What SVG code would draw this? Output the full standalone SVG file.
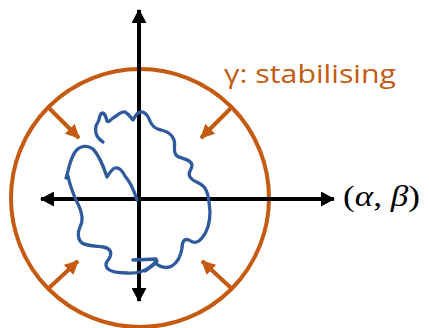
<svg xmlns="http://www.w3.org/2000/svg" width="429" height="328" viewBox="0 0 429 328">
<style>
.axis{stroke:#000;stroke-width:4;fill:none}
.push{stroke:#C55A11;stroke-width:4;fill:none}
.ring{stroke:#C55A11;stroke-width:4;fill:none}
.walk{stroke:#2F5A9C;stroke-width:3.3;fill:none;stroke-linecap:round;stroke-linejoin:round}
.lbl{font-family:"Open Sans","Liberation Sans",sans-serif;font-size:25px;fill:#C55A11}
.math{font-family:"Liberation Serif","DejaVu Serif",serif;font-size:29px;fill:#000}
</style>
<defs>
<marker id="ah" viewBox="0 0 14 15" refX="13" refY="7.5" markerUnits="userSpaceOnUse" markerWidth="14" markerHeight="15" orient="auto-start-reverse">
<path d="M0,0 L14,7.5 L0,15 Z" fill="#000"/>
</marker>
<marker id="oh" viewBox="0 0 14 14" refX="13" refY="7" markerUnits="userSpaceOnUse" markerWidth="14" markerHeight="14" orient="auto">
<path d="M0,0 L14,7 L0,14 Z" fill="#C55A11"/>
</marker>
</defs>
<g id="ring">
<circle class="ring" cx="140" cy="198" r="129"/>
</g>
<g id="connectors">
<line class="axis" x1="139" y1="301" x2="139" y2="10" marker-start="url(#ah)" marker-end="url(#ah)"/>
<line class="axis" x1="41" y1="199" x2="334" y2="199" marker-start="url(#ah)" marker-end="url(#ah)"/>
<line class="push" x1="49" y1="108" x2="79" y2="138" marker-end="url(#oh)"/>
<line class="push" x1="231" y1="108" x2="201" y2="138" marker-end="url(#oh)"/>
<line class="push" x1="49" y1="288" x2="78" y2="261" marker-end="url(#oh)"/>
<line class="push" x1="231" y1="288" x2="202" y2="261" marker-end="url(#oh)"/>
</g>
<g id="walk">
<path class="walk" d="M137,200 C134,190 130,182 125,176 C122,170 119,167 115,168 C112,169 110,172 107,177 C104,168 99,155 93,149 C88,145 80,145 75,152 C71,158 69,166 67,175 L66,178 L68,176 C70,186 74,196 78,204 C82,212 84,220 80,227 C77,233 78,240 82,243 C87,246 95,246 103,247 C110,248 112,252 110,257 C108,261 104,263 107,268 C110,272 118,273 127,273 C136,274 143,272 150,267 L157,261"/>
<path class="walk" d="M133,260 L156,259 C158,263 151,267 145,271"/>
<path class="walk" d="M155,263 C160,267 166,269 172,266 C178,262 181,255 182,248 C182,242 184,238 189,240 C193,243 197,244 202,238 C207,232 210,222 210,212 C209,200 208,190 203,186 C199,182 193,182 190,177 C187,172 192,170 192,165 C191,159 182,159 177,156 C172,152 176,146 174,140 C172,134 166,131 161,130 C155,129 152,126 150,121 C148,115 144,111 140,112 C136,113 135,117 133,120 C131,118 129,114 125,112 C121,111 117,116 113,118 C110,120 109,123 107,121 C106,117 105,113 102,113 C99,114 100,119 98,122 C95,126 95,132 97,136 C99,139 101,141 103,142"/>
</g>
<g id="label-gamma">
<text class="lbl" x="224" y="83" textLength="172" lengthAdjust="spacingAndGlyphs">γ: stabilising</text>
</g>
<g id="label-ab">
<text class="math" x="343" y="206" textLength="77" lengthAdjust="spacingAndGlyphs">(<tspan font-style="italic">α</tspan>, <tspan font-style="italic">β</tspan>)</text>
</g>
</svg>
